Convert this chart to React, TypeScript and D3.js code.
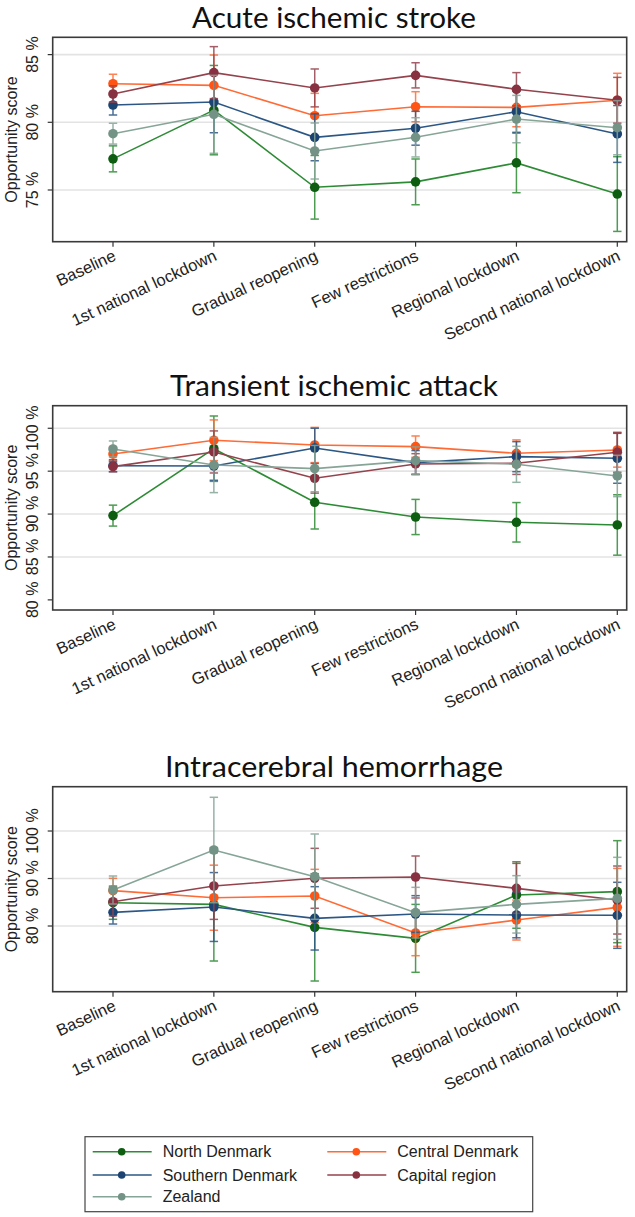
import React from "react";
import * as d3 from "d3";

// ---------- data ----------
const categories = [
  "Baseline",
  "1st national lockdown",
  "Gradual reopening",
  "Few restrictions",
  "Regional lockdown",
  "Second national lockdown",
];

const regions = ["North Denmark", "Central Denmark", "Southern Denmark", "Capital region", "Zealand"];

// Acute ischemic stroke: mean and 95% CI half-widths
const aisNorth = [77.3, 80.9, 75.2, 75.6, 77.0, 74.7];
const aisNorthCI = [0.96, 3.3, 2.35, 1.69, 2.2, 2.76];
const aisCentral = [82.85, 82.73, 80.49, 81.15, 81.1, 81.63];
const aisCentralCI = [0.7, 2.24, 1.65, 1.11, 1.43, 1.99];
const aisSouthern = [81.28, 81.5, 78.89, 79.56, 80.78, 79.14];
const aisSouthernCI = [0.74, 2.27, 1.73, 1.25, 1.52, 2.1];
const aisCapital = [82.09, 83.67, 82.54, 83.47, 82.44, 81.63];
const aisCapitalCI = [0.6, 1.92, 1.4, 0.93, 1.23, 1.69];
const aisZealand = [79.16, 80.59, 77.88, 78.89, 80.24, 79.6];
const aisZealandCI = [0.77, 2.88, 2.07, 1.45, 1.75, 2.0];

// Transient ischemic attack
const tiaNorth = [89.82, 97.62, 91.37, 89.66, 89.04, 88.73];
const tiaNorthCI = [1.22, 3.81, 3.11, 2.05, 2.3, 3.52];
const tiaCentral = [97.0, 98.6, 98.05, 97.86, 97.08, 97.47];
const tiaCentralCI = [0.8, 2.37, 2.05, 1.24, 1.56, 2.0];
const tiaSouthern = [95.64, 95.6, 97.7, 96.0, 96.69, 96.5];
const tiaSouthernCI = [0.7, 1.66, 2.3, 1.4, 1.75, 2.91];
const tiaCapital = [95.53, 97.24, 94.17, 95.84, 95.92, 97.2];
const tiaCapitalCI = [0.6, 2.45, 1.73, 1.2, 1.3, 2.33];
const tiaZealand = [97.59, 95.72, 95.3, 96.23, 95.8, 94.44];
const tiaZealandCI = [0.93, 3.22, 2.7, 1.6, 2.1, 2.41];

// Intracerebral hemorrhage
const ichNorth = [84.91, 84.56, 79.72, 77.4, 86.53, 87.23];
const ichNorthCI = [3.5, 11.93, 11.3, 7.15, 7.0, 10.74];
const ichCentral = [87.44, 85.96, 86.32, 78.53, 81.26, 83.93];
const ichCentralCI = [2.6, 6.85, 5.61, 4.78, 4.21, 8.2];
const ichSouthern = [82.88, 84.0, 81.61, 82.53, 82.32, 82.25];
const ichSouthernCI = [2.46, 7.25, 6.67, 3.86, 4.8, 6.95];
const ichCapital = [85.12, 88.42, 90.04, 90.32, 87.93, 85.47];
const ichCapitalCI = [3.0, 7.02, 6.31, 4.42, 5.26, 7.16];
const ichZealand = [87.58, 96.0, 90.39, 82.81, 84.56, 85.82];
const ichZealandCI = [2.95, 11.1, 8.98, 5.33, 6.04, 8.64];

const aisTicks = [75, 80, 85];
const tiaTicks = [80, 85, 90, 95, 100];
const ichTicks = [80, 90, 100];

const titles = ["Acute ischemic stroke", "Transient ischemic attack", "Intracerebral hemorrhage"];
const yTitle = "Opportunity score";

// ---------- styles ----------
const lineColors = ["#2e8b35", "#ff6a35", "#2c5785", "#94434d", "#86a597"];
const markerColors = ["#0e5e12", "#ff5414", "#1c4473", "#883140", "#729385"];
const FONT = "'Liberation Sans', Arial, sans-serif";
const TITLE_FONT = "Lato, 'Open Sans', sans-serif";

type Series = { mean: number[]; ci: number[] };

const panels = [
  {
    title: titles[0],
    ticks: aisTicks,
    grid: aisTicks,
    domain: [71.18, 86.28],
    top: 37.3,
    bottom: 241.7,
    titleY: 28,
    titleLen: 284,
    series: [
      { mean: aisNorth, ci: aisNorthCI },
      { mean: aisCentral, ci: aisCentralCI },
      { mean: aisSouthern, ci: aisSouthernCI },
      { mean: aisCapital, ci: aisCapitalCI },
      { mean: aisZealand, ci: aisZealandCI },
    ] as Series[],
  },
  {
    title: titles[1],
    ticks: tiaTicks,
    grid: [85, 90, 95, 100],
    domain: [78.82, 102.63],
    top: 405.7,
    bottom: 610,
    titleY: 396,
    titleLen: 328,
    series: [
      { mean: tiaNorth, ci: tiaNorthCI },
      { mean: tiaCentral, ci: tiaCentralCI },
      { mean: tiaSouthern, ci: tiaSouthernCI },
      { mean: tiaCapital, ci: tiaCapitalCI },
      { mean: tiaZealand, ci: tiaZealandCI },
    ] as Series[],
  },
  {
    title: titles[2],
    ticks: ichTicks,
    grid: ichTicks,
    domain: [66.17, 109.33],
    top: 786.7,
    bottom: 991.7,
    titleY: 777,
    titleLen: 338,
    series: [
      { mean: ichNorth, ci: ichNorthCI },
      { mean: ichCentral, ci: ichCentralCI },
      { mean: ichSouthern, ci: ichSouthernCI },
      { mean: ichCapital, ci: ichCapitalCI },
      { mean: ichZealand, ci: ichZealandCI },
    ] as Series[],
  },
];

const FRAME_L = 52.7;
const FRAME_R = 626.7;

const x = d3.scalePoint<string>().domain(categories).range([113, 617.3]);

function Panel({ p }: { p: (typeof panels)[number] }) {
  const y = d3.scaleLinear().domain(p.domain).range([p.bottom, p.top]);
  const line = d3
    .line<number>()
    .x((_, i) => x(categories[i]) as number)
    .y((d) => y(d));
  const midY = (p.top + p.bottom) / 2;
  return (
    <g>
      <text
        x={334}
        y={p.titleY}
        textAnchor="middle"
        fontFamily={TITLE_FONT}
        fontSize={28}
        textLength={p.titleLen}
        lengthAdjust="spacingAndGlyphs"
        fill="#111"
      >
        {p.title}
      </text>
      {/* gridlines */}
      {p.grid.map((t) => (
        <line key={"g" + t} x1={FRAME_L} x2={FRAME_R} y1={y(t)} y2={y(t)} stroke="#e3e3e3" strokeWidth={1.6} />
      ))}
      {/* y ticks */}
      {p.ticks.map((t) => (
        <g key={"t" + t}>
          <line x1={FRAME_L - 5} x2={FRAME_L} y1={y(t)} y2={y(t)} stroke="#333" strokeWidth={1.2} />
          <text
            transform={`translate(${37.5},${y(t)}) rotate(-90)`}
            textAnchor="middle"
            fontFamily={FONT}
            fontSize={16}
            fill="#222"
          >
            {`${t} %`}
          </text>
        </g>
      ))}
      <text
        transform={`translate(${17},${midY}) rotate(-90)`}
        textAnchor="middle"
        fontFamily={FONT}
        fontSize={16}
        fill="#222"
      >
        {yTitle}
      </text>
      {/* x ticks and labels */}
      {categories.map((c) => (
        <g key={c}>
          <line x1={x(c)} x2={x(c)} y1={p.bottom} y2={p.bottom + 5} stroke="#333" strokeWidth={1.2} />
          <text
            transform={`translate(${(x(c) as number) + 4},${p.bottom + 18}) rotate(-25)`}
            textAnchor="end"
            fontFamily={FONT}
            fontSize={16.5}
            fill="#222"
          >
            {c}
          </text>
        </g>
      ))}
      {/* series */}
      {p.series.map((s, si) => (
        <g key={si}>
          {s.mean.map((m, i) => {
            const cx = x(categories[i]) as number;
            const lo = y(m - s.ci[i]);
            const hi = y(m + s.ci[i]);
            return (
              <g key={i} stroke={lineColors[si]} strokeWidth={1.5} opacity={0.85}>
                <line x1={cx} x2={cx} y1={lo} y2={hi} />
                <line x1={cx - 4.2} x2={cx + 4.2} y1={lo} y2={lo} />
                <line x1={cx - 4.2} x2={cx + 4.2} y1={hi} y2={hi} />
              </g>
            );
          })}
          <path d={line(s.mean) || ""} fill="none" stroke={lineColors[si]} strokeWidth={1.6} />
          {s.mean.map((m, i) => (
            <circle key={"c" + i} cx={x(categories[i]) as number} cy={y(m)} r={4.8} fill={markerColors[si]} />
          ))}
        </g>
      ))}
      {/* frame */}
      <rect
        x={FRAME_L}
        y={p.top}
        width={FRAME_R - FRAME_L}
        height={p.bottom - p.top}
        fill="none"
        stroke="#3a3a3a"
        strokeWidth={1.6}
      />
    </g>
  );
}

function Legend() {
  const cols = [92.7, 327.3];
  const rows = [1151.7, 1175, 1196.7];
  return (
    <g>
      <rect x={85} y={1136.7} width={447.7} height={75} fill="#fff" stroke="#444" strokeWidth={1.2} />
      {regions.map((r, i) => {
        const cx = cols[i % 2];
        const cy = rows[Math.floor(i / 2)];
        return (
          <g key={r}>
            <line x1={cx} x2={cx + 59} y1={cy} y2={cy} stroke={lineColors[i]} strokeWidth={1.6} />
            <circle cx={cx + 29} cy={cy} r={3.8} fill={markerColors[i]} />
            <text x={cx + 70} y={cy + 5.5} fontFamily={FONT} fontSize={16} fill="#222">
              {r}
            </text>
          </g>
        );
      })}
    </g>
  );
}

export default function App() {
  return (
    <svg
      width={635}
      height={1217}
      style={{ position: "absolute", left: 0, top: 0, background: "#fff" }}
    >
      <rect x={0} y={0} width={635} height={1217} fill="#fff" />
      {panels.map((p) => (
        <Panel key={p.title} p={p} />
      ))}
      <Legend />
    </svg>
  );
}
